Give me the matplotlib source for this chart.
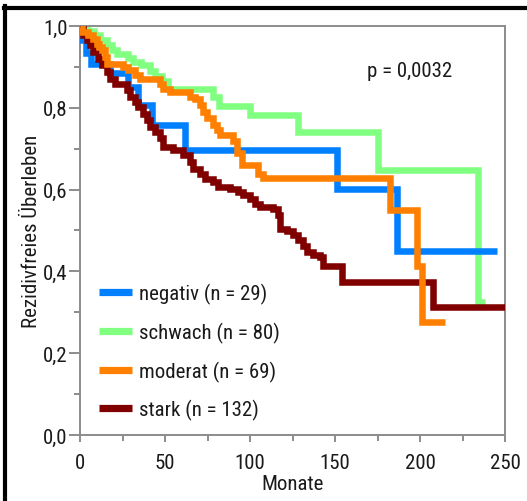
import matplotlib
matplotlib.use("Agg")
import matplotlib.pyplot as plt
from matplotlib.lines import Line2D
from matplotlib.ticker import MultipleLocator, FuncFormatter

plt.rcParams['font.family'] = ['Liberation Sans Narrow', 'Arial Narrow', 'Roboto Condensed',
                               'Archivo Narrow', 'Liberation Sans', 'DejaVu Sans']

# Kaplan-Meier step data: time of each drop (months) and survival after it
neg_t = [0, 0.8, 3.5, 6.5, 17.5, 28.3, 34.3, 42.2, 61.8, 151, 186.5]
neg_s = [1.0, 0.966, 0.933, 0.906, 0.886, 0.852, 0.806, 0.757, 0.696, 0.602, 0.450]
neg_end = 245

sch_t = [0, 4, 8, 12, 16, 19, 22, 28, 31, 36, 41, 44, 48, 52, 78.5, 82, 100, 128.5, 175.5, 234.3]
sch_s = [1.0, 0.988, 0.977, 0.965, 0.953, 0.941, 0.932, 0.922, 0.912, 0.904, 0.890, 0.878,
         0.866, 0.847, 0.827, 0.805, 0.782, 0.741, 0.648, 0.326]
sch_end = 238

mod_t = [0, 1, 4.9, 7.8, 9.8, 11, 12.7, 14.5, 15.7, 25.5, 28.4, 32.4, 35.3, 47.1, 49, 52.9,
         64.7, 67.6, 70.6, 72.5, 74.5, 78.4, 80.5, 82.4, 90.2, 92.2, 95.5, 104.9, 107.8,
         182.4, 198.4, 201]
mod_s = [1.0, 0.986, 0.978, 0.969, 0.957, 0.949, 0.941, 0.925, 0.908, 0.900, 0.892, 0.880,
         0.871, 0.859, 0.847, 0.839, 0.827, 0.822, 0.806, 0.790, 0.774, 0.757, 0.745, 0.733,
         0.720, 0.690, 0.659, 0.639, 0.628, 0.549, 0.412, 0.276]
mod_end = 214.7

sta_t = [0, 1.9, 3.9, 5.9, 7.8, 10.8, 12.7, 15.7, 17.6, 20.6, 27.5, 29.4, 32.4, 34.3, 37.3,
         39.2, 41.2, 44.1, 47.1, 49, 54.9, 60.8, 64.7, 66.7, 70.6, 73.5, 78.4, 81.4, 88.2,
         93.1, 96.1, 100, 102.9, 105.9, 113.7, 116.7, 117.6, 121.6, 125.5, 128.4, 131.4,
         133.3, 137.3, 141.2, 143.1, 153.9, 207.8]
sta_s = [1.0, 0.978, 0.965, 0.953, 0.936, 0.920, 0.904, 0.888, 0.871, 0.859, 0.843, 0.827,
         0.814, 0.802, 0.786, 0.769, 0.753, 0.741, 0.725, 0.704, 0.696, 0.684, 0.667, 0.651,
         0.639, 0.627, 0.618, 0.606, 0.602, 0.594, 0.586, 0.578, 0.565, 0.557, 0.553, 0.537,
         0.504, 0.500, 0.488, 0.476, 0.463, 0.447, 0.439, 0.435, 0.414, 0.374, 0.313]
sta_end = 250

labels = ['negativ (n = 29)', 'schwach (n = 80)', 'moderat (n = 69)', 'stark (n = 132)']
colors = ['#0080ff', '#80ff80', '#ff8000', '#800000']
p_text = 'p = 0,0032'

fig = plt.figure(figsize=(5.27, 5.02), dpi=100)
ax = fig.add_axes([80 / 527, 66 / 502, 425 / 527, 409 / 502])

series = [(neg_t, neg_s, neg_end), (sch_t, sch_s, sch_end),
          (mod_t, mod_s, mod_end), (sta_t, sta_s, sta_end)]
zorders = [3, 2, 5, 4]
for (t, s, end), c, lab, z in zip(series, colors, labels, zorders):
    xs = list(t) + [end]
    ys = list(s) + [s[-1]]
    ax.plot(xs, ys, drawstyle='steps-post', color=c, lw=4.7, label=lab,
            zorder=z, solid_joinstyle='miter', solid_capstyle='butt')

ax.set_xlim(0, 250)
ax.set_ylim(0, 1.0)
ax.xaxis.set_major_locator(MultipleLocator(50))
ax.xaxis.set_minor_locator(MultipleLocator(25))
ax.yaxis.set_major_locator(MultipleLocator(0.2))
ax.yaxis.set_minor_locator(MultipleLocator(0.1))
ax.yaxis.set_major_formatter(FuncFormatter(lambda v, _: f"{v:.1f}".replace('.', ',')))

for sp in ax.spines.values():
    sp.set_color('#8c8c8c')
    sp.set_linewidth(1.4)

ax.tick_params(axis='both', which='both', direction='out', color='#8c8c8c', width=1.4,
               labelsize=15, labelcolor='#1a1a1a')
ax.tick_params(axis='x', which='major', length=5, pad=8)
ax.tick_params(axis='x', which='minor', length=4)
ax.tick_params(axis='y', which='major', length=8, pad=1)
ax.tick_params(axis='y', which='minor', length=4)

ax.set_xlabel('Monate', fontsize=15, color='#1a1a1a')
ax.set_ylabel('Rezidivfreies Überleben', fontsize=15, color='#1a1a1a')
ax.xaxis.set_label_coords(0.5, -0.095)
ax.yaxis.set_label_coords(-0.092, 0.5)

ax.text(168.8, 0.878, p_text, fontsize=15, color='#1a1a1a', va='baseline', ha='left')

leg_handles = [Line2D([0], [0], color=c, lw=5.2, solid_capstyle='butt') for c in colors]
ax.legend(leg_handles, labels, loc='upper left', bbox_to_anchor=(0.045, 0.372),
          frameon=False, fontsize=15, handlelength=1.6, handletextpad=0.3,
          labelspacing=0.85, borderpad=0, borderaxespad=0, labelcolor='#1a1a1a')

# heavy black frame along the left and top edges
fig.add_artist(Line2D([5.3 / 527, 5.3 / 527], [0, 1 - 7 / 502], color='black', lw=3.0,
                      transform=fig.transFigure))
fig.add_artist(Line2D([3.8 / 527, 1], [1 - 8.7 / 502, 1 - 8.7 / 502], color='black', lw=3.0,
                      transform=fig.transFigure))

fig.savefig('out.png', dpi=100)
